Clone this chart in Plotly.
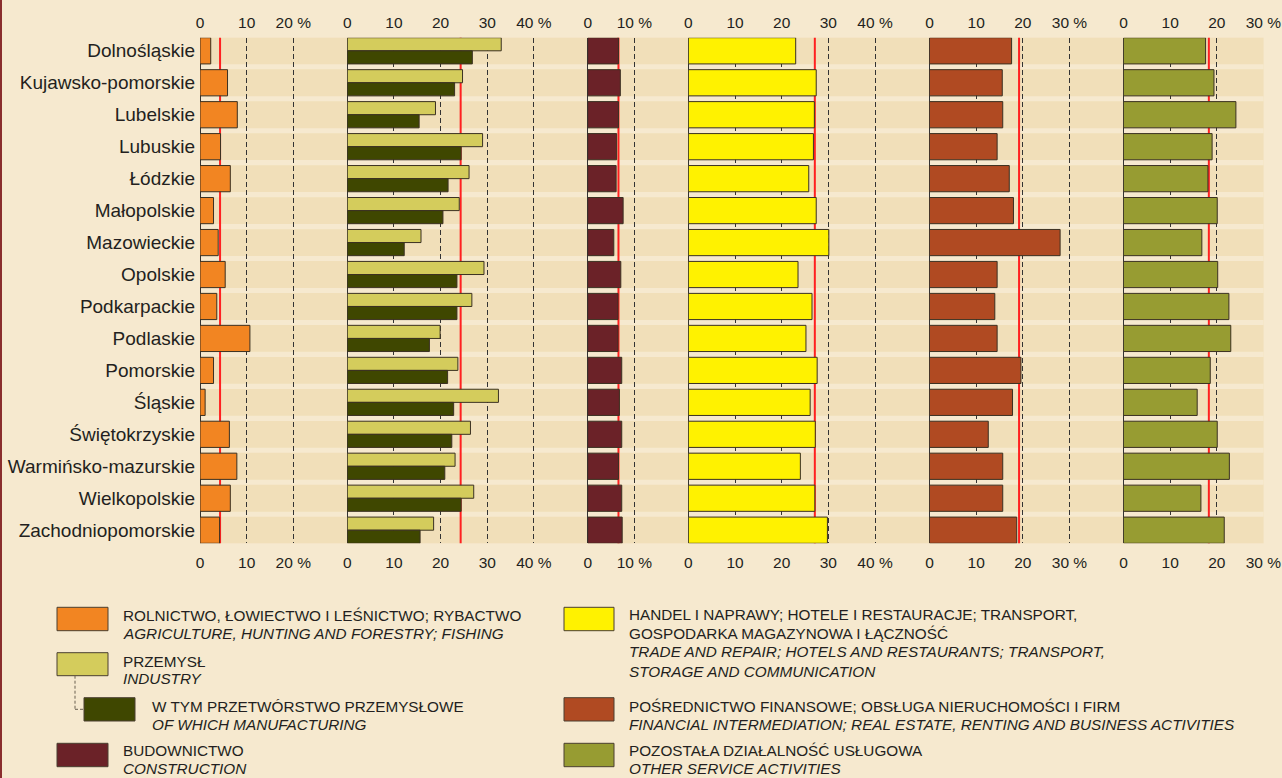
import plotly.graph_objects as go

# ---------------- data ----------------
regions = ["Dolnośląskie", "Kujawsko-pomorskie", "Lubelskie", "Lubuskie", "Łódzkie",
           "Małopolskie", "Mazowieckie", "Opolskie", "Podkarpackie", "Podlaskie",
           "Pomorskie", "Śląskie", "Świętokrzyskie", "Warmińsko-mazurskie",
           "Wielkopolskie", "Zachodniopomorskie"]

agriculture = [2.3, 5.9, 8.0, 4.4, 6.5, 2.9, 3.9, 5.4, 3.6, 10.7, 2.9, 1.1, 6.3, 7.9, 6.5, 4.2]
industry = [33.0, 24.7, 18.9, 29.0, 26.1, 24.0, 15.8, 29.3, 26.7, 19.9, 23.7, 32.4, 26.4, 23.1, 27.1, 18.5]
manufacturing = [26.8, 23.0, 15.4, 24.4, 21.6, 20.5, 12.2, 23.5, 23.5, 17.6, 21.5, 22.8, 22.4, 20.9, 24.4, 15.6]
construction = [6.6, 7.0, 6.6, 6.2, 6.1, 7.6, 5.6, 7.1, 6.5, 6.5, 7.3, 6.8, 7.3, 6.6, 7.3, 7.4]
trade = [23.0, 27.4, 27.0, 26.8, 25.8, 27.4, 30.1, 23.5, 26.5, 25.2, 27.6, 26.1, 27.2, 24.0, 27.1, 29.8]
finance = [17.6, 15.6, 15.7, 14.5, 17.1, 18.0, 28.0, 14.5, 14.0, 14.5, 19.6, 17.8, 12.6, 15.7, 15.7, 18.7]
other_services = [17.6, 19.4, 24.1, 19.0, 18.1, 20.1, 16.8, 20.2, 22.6, 23.0, 18.6, 15.8, 20.1, 22.7, 16.6, 21.6]

# national averages (red lines), one per panel
national_avg = [4.3, 24.3, 6.6, 27.1, 19.2, 18.3]

# tick values / labels per panel
panel_tickvals = [[0, 10, 20], [0, 10, 20, 30, 40], [0, 10], [0, 10, 20, 30, 40],
                  [0, 10, 20, 30], [0, 10, 20, 30]]
panel_ticktext = [["0", "10", "20 %"], ["0", "10", "20", "30", "40 %"], ["0", "10 %"],
                  ["0", "10", "20", "30", "40 %"], ["0", "10", "20", "30 %"],
                  ["0", "10", "20", "30 %"]]

legend_items_left = [
    ("ROLNICTWO, ŁOWIECTWO I LEŚNICTWO; RYBACTWO", "AGRICULTURE, HUNTING AND FORESTRY; FISHING"),
    ("PRZEMYSŁ", "INDUSTRY"),
    ("W TYM PRZETWÓRSTWO PRZEMYSŁOWE", "OF WHICH MANUFACTURING"),
    ("BUDOWNICTWO", "CONSTRUCTION"),
]
legend_items_right = [
    (["HANDEL I NAPRAWY; HOTELE I RESTAURACJE; TRANSPORT,", "GOSPODARKA MAGAZYNOWA I ŁĄCZNOŚĆ"],
     ["TRADE AND REPAIR; HOTELS AND RESTAURANTS; TRANSPORT,", "STORAGE AND COMMUNICATION"]),
    (["POŚREDNICTWO FINANSOWE; OBSŁUGA NIERUCHOMOŚCI I FIRM"],
     ["FINANCIAL INTERMEDIATION; REAL ESTATE, RENTING AND BUSINESS ACTIVITIES"]),
    (["POZOSTAŁA DZIAŁALNOŚĆ USŁUGOWA"], ["OTHER SERVICE ACTIVITIES"]),
]

# ---------------- style ----------------
W, H = 1282, 778
FONT = "Liberation Sans Narrow, Arial Narrow, Liberation Sans, Arial, sans-serif"
TXT = "#231f20"
PAPER = "#f6e9cf"
PLOTBG = "#f1dfb9"
OUTLINE = "#3b3122"
C_AGR, C_IND, C_MAN, C_CON = "#f28522", "#d4cc5c", "#3f4700", "#6b2228"
C_TRA, C_FIN, C_OTH = "#fff200", "#b04a22", "#979c32"
RED = "#ff2020"
GRID = "#333333"

panel_px = [200, 347.3, 587.7, 688.4, 929.5, 1123.5, 1263.6]
PX_PER_UNIT = 4.667
plot_top, plot_bot = 37.7, 543.3


def fx(px):
    return px / W


def fy(py):
    return 1 - py / H


fig = go.Figure()

series = [
    (0, [("agr", agriculture, C_AGR)]),
    (1, [("ind", industry, C_IND), ("man", manufacturing, C_MAN)]),
    (2, [("con", construction, C_CON)]),
    (3, [("tra", trade, C_TRA)]),
    (4, [("fin", finance, C_FIN)]),
    (5, [("oth", other_services, C_OTH)]),
]
for i, lst in series:
    xa = "x" if i == 0 else f"x{i+1}"
    for name, vals, col in lst:
        fig.add_trace(go.Bar(
            x=vals, y=regions, orientation="h", xaxis=xa, yaxis="y", name=name,
            marker=dict(color=col, line=dict(color=OUTLINE, width=1)),
            showlegend=False, hoverinfo="x+y"))
    # invisible trace on the top axis so it is drawn
    fig.add_trace(go.Scatter(x=[0], y=[regions[0]], xaxis=f"x{i+7}", yaxis="y",
                             mode="markers", marker=dict(opacity=0), showlegend=False,
                             hoverinfo="skip"))

layout = dict(
    width=W, height=H, autosize=False,
    margin=dict(l=0, r=0, t=0, b=0, pad=0, autoexpand=False),
    paper_bgcolor=PAPER, plot_bgcolor=PLOTBG,
    barmode="group", bargap=0.18, bargroupgap=0,
    font=dict(family=FONT, color=TXT),
    yaxis=dict(domain=[fy(plot_bot), fy(plot_top)], type="category",
               categoryorder="array", categoryarray=regions, automargin=False,
               range=[len(regions) - 1 + 0.41, -0.41], showgrid=False, zeroline=False,
               ticks="", tickfont=dict(family=FONT, size=19, color=TXT),
               ticklabelstandoff=4, fixedrange=True),
)
for i in range(6):
    x0, x1 = panel_px[i], panel_px[i + 1]
    rng = [0, (x1 - x0) / PX_PER_UNIT + 0.02]
    key = "xaxis" if i == 0 else f"xaxis{i+1}"
    layout[key] = dict(domain=[fx(x0), fx(x1)], range=rng, anchor="y", side="bottom",
                       tickmode="array", tickvals=panel_tickvals[i], ticktext=panel_ticktext[i],
                       showgrid=True, gridcolor=GRID, gridwidth=1, griddash="5px,3px",
                       zeroline=True, zerolinecolor=GRID, zerolinewidth=1, automargin=False,
                       ticks="", showline=False, ticklabelstandoff=8,
                       tickfont=dict(family=FONT, size=15.5, color=TXT), fixedrange=True)
    layout[f"xaxis{i+7}"] = dict(overlaying="x" if i == 0 else f"x{i+1}", side="top",
                                 anchor="y", range=rng, tickmode="array", automargin=False,
                                 tickvals=panel_tickvals[i], ticktext=panel_ticktext[i],
                                 showgrid=False, zeroline=False, ticks="", showline=False,
                                 ticklabelstandoff=6,
                                 tickfont=dict(family=FONT, size=15.5, color=TXT),
                                 fixedrange=True)
fig.update_layout(**layout)

shapes = []
# light stripes between rows
for k in range(len(regions) - 1):
    shapes.append(dict(type="rect", xref="paper", yref="y", x0=fx(panel_px[0]), x1=fx(panel_px[-1]),
                       y0=k + 0.42, y1=k + 0.58, fillcolor=PAPER, line=dict(width=0), layer="below"))
# red national-average lines
for i, v in enumerate(national_avg):
    xa = "x" if i == 0 else f"x{i+1}"
    shapes.append(dict(type="line", xref=xa, yref="paper", x0=v, x1=v,
                       y0=fy(plot_bot), y1=fy(plot_top),
                       line=dict(color=RED, width=2), layer="below"))
# left border
shapes.append(dict(type="line", xref="paper", yref="paper", x0=fx(1), x1=fx(1), y0=0, y1=1,
                   line=dict(color="#8a2e2e", width=2)))

annotations = []
LEG_SIZE = 15.3


def legend_box(x0, y0, x1, y1, col):
    shapes.append(dict(type="rect", xref="paper", yref="paper", x0=fx(x0), x1=fx(x1),
                       y0=fy(y1), y1=fy(y0), fillcolor=col, line=dict(color="#4a3f30", width=1)))


def legend_text(x, y, txt, italic=False):
    annotations.append(dict(xref="paper", yref="paper", x=fx(x), y=fy(y), xanchor="left",
                            yanchor="middle", showarrow=False,
                            text=f"<i>{txt}</i>" if italic else txt,
                            font=dict(family=FONT, size=LEG_SIZE, color=TXT)))


# left column
left_boxes = [(57, 607.3, 108, 630.7, C_AGR, 121, [615.3, 633.3]),
              (57, 652.7, 108, 675.7, C_IND, 121, [661, 678.3]),
              (84, 697.7, 135, 721, C_MAN, 150, [706.3, 724]),
              (57, 743.3, 108, 766.7, C_CON, 121, [750.8, 768.3])]
for (bx0, by0, bx1, by1, col, tx, ys), (pl, en) in zip(left_boxes, legend_items_left):
    legend_box(bx0, by0, bx1, by1, col)
    legend_text(tx, ys[0], pl)
    legend_text(tx, ys[1], en, italic=True)

# connector industry -> manufacturing
shapes.append(dict(type="line", xref="paper", yref="paper", x0=fx(75), x1=fx(75),
                   y0=fy(675.7), y1=fy(709.3), line=dict(color="#6a6050", width=1, dash="3px,2px")))
shapes.append(dict(type="line", xref="paper", yref="paper", x0=fx(75), x1=fx(84),
                   y0=fy(709.3), y1=fy(709.3), line=dict(color="#6a6050", width=1, dash="3px,2px")))

# right column
right_boxes = [(564, 607.3, 614, 630.7, C_TRA, [614.5, 633.3, 651.7, 671.5]),
               (564, 697.7, 614, 721, C_FIN, [706.3, 724]),
               (564, 743.3, 614, 766.7, C_OTH, [750.6, 768.2])]
for (bx0, by0, bx1, by1, col, ys), (pl, en) in zip(right_boxes, legend_items_right):
    legend_box(bx0, by0, bx1, by1, col)
    lines = [(t, False) for t in pl] + [(t, True) for t in en]
    for yy, (t, it) in zip(ys, lines):
        legend_text(627, yy, t, italic=it)

fig.update_layout(shapes=shapes, annotations=annotations)
fig.write_html("out.html", config={"displayModeBar": False, "responsive": False},
               post_script="document.body.style.margin='0';document.body.style.overflow='hidden';")
